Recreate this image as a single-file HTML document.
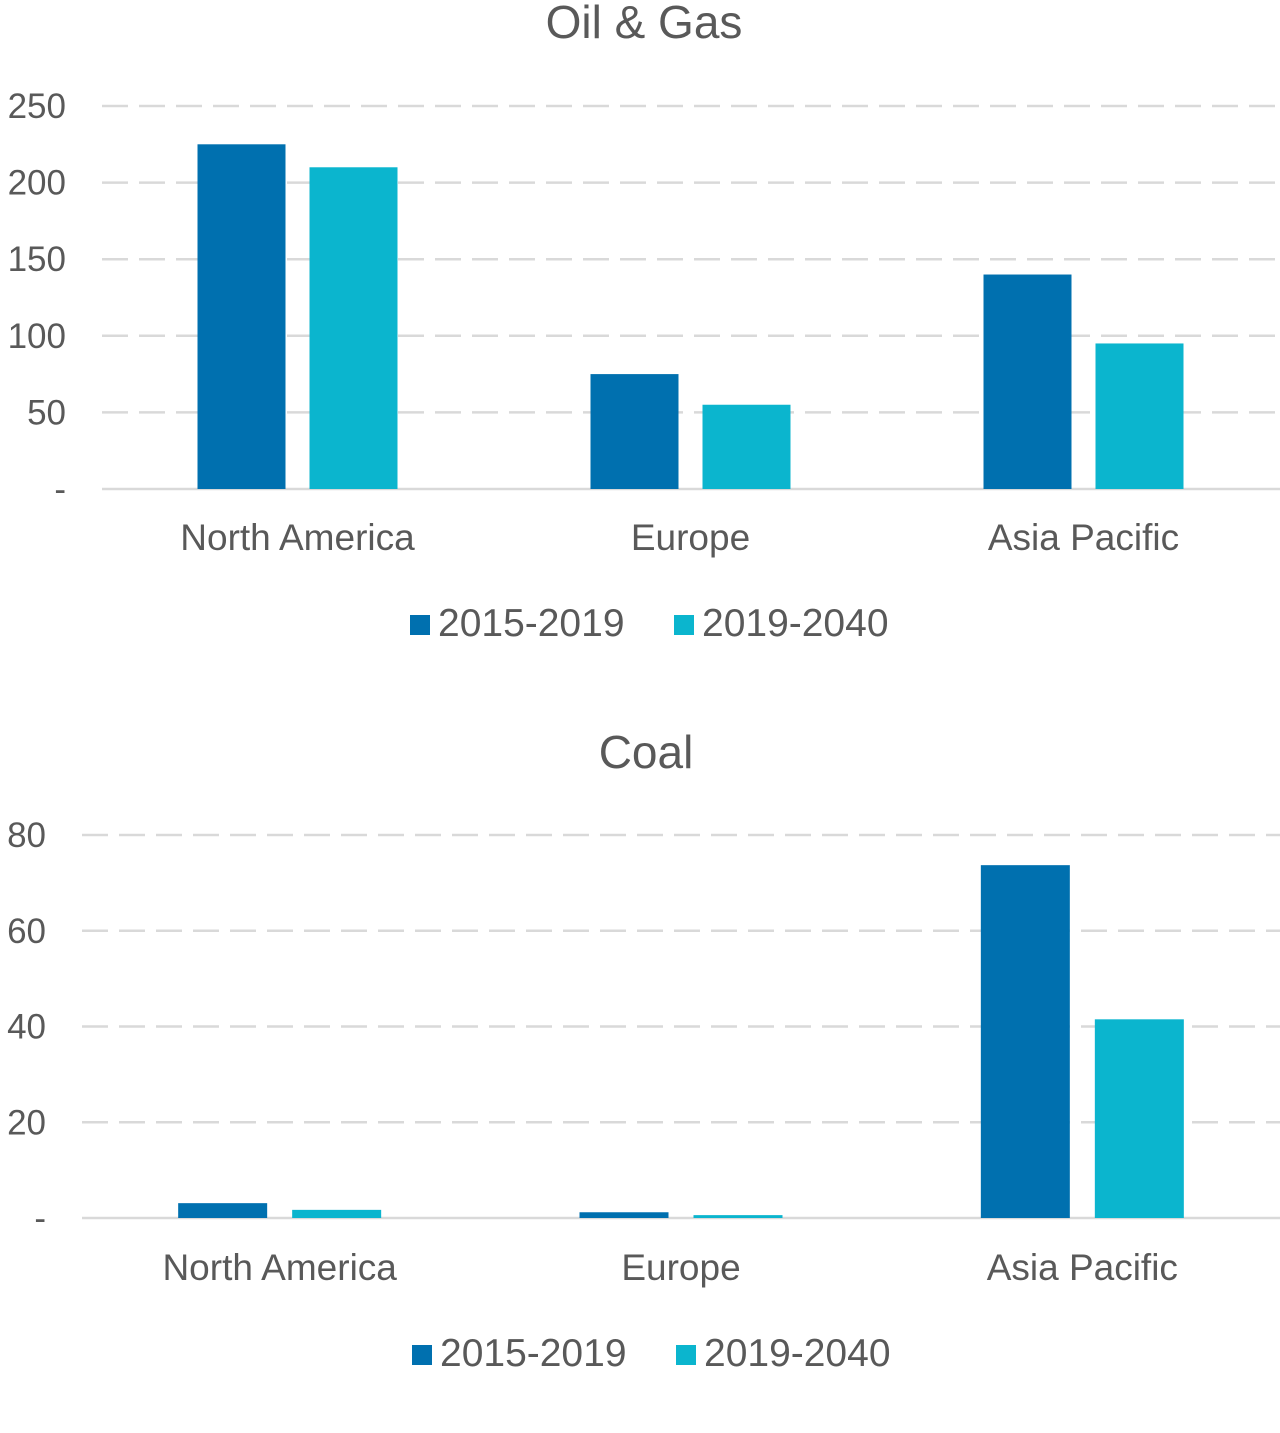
<!DOCTYPE html>
<html><head><meta charset="utf-8"><style>
html,body{margin:0;padding:0;background:#fff;}
svg{display:block;font-family:"Liberation Sans",Arial,sans-serif;}
</style></head><body>
<svg id="svg" width="1280" height="1433" viewBox="0 0 1280 1433"></svg>
<script>
const categories = ["North America","Europe","Asia Pacific"];
const seriesNames = ["2015-2019","2019-2040"];
const oilGas2015 = [225, 75, 140];
const oilGas2019 = [210, 55, 95];
const oilTicks = [0, 50, 100, 150, 200, 250];
const oilTickLabels = ["-", "50", "100", "150", "200", "250"];
const coal2015 = [3.1, 1.2, 73.7];
const coal2019 = [1.7, 0.6, 41.5];
const coalTicks = [0, 20, 40, 60, 80];
const coalTickLabels = ["-", "20", "40", "60", "80"];

const NS="http://www.w3.org/2000/svg";
const svg=document.getElementById('svg');
const colors=["#0070AF","#0BB5CE"];
function mk(tag,attrs,parent){const e=document.createElementNS(NS,tag);for(const k in attrs)e.setAttribute(k,attrs[k]);(parent||svg).appendChild(e);return e;}

function chart(cfg){
  const g=mk('g',{});
  
  
  const y=v=>cfg.y0-(v-cfg.vmin)*(cfg.y0-cfg.y1)/(cfg.vmax-cfg.vmin);
  const catW=(cfg.x1-cfg.x0)/categories.length;
  const t=mk('text',{x:cfg.titleX,y:cfg.titleY,'text-anchor':'middle','font-size':46,fill:'#595959'},g);
  t.textContent=cfg.title;
  
  
  cfg.ticks.forEach((v,i)=>{
    const yy=y(v);
    const ln=mk('line',{x1:cfg.gx0,x2:1280,y1:yy,y2:yy,stroke:'#d9d9d9','stroke-width':v===0?2.5:2.5,'stroke-dasharray':v===0?'none':'26 11'},g);
    
    
    const tl=mk('text',{x:cfg.labX,y:yy+12,'text-anchor':'end','font-size':35,fill:'#595959'},g);
    tl.textContent=cfg.tickLabels[i];
    
    
  });
  categories.forEach((c,i)=>{
    const cx=cfg.x0+catW*(i+0.5);
    [cfg.s1,cfg.s2].forEach((s,j)=>{
      const bx=cx-cfg.bw-cfg.gap/2+j*(cfg.bw+cfg.gap);
      const top=y(s[i]);
      const r=mk('rect',{x:bx,y:top,width:cfg.bw,height:cfg.y0-top,fill:colors[j]},g);
      
      
    });
    const cl=mk('text',{x:cx,y:cfg.catY,'text-anchor':'middle','font-size':37,fill:'#595959'},g);
    cl.textContent=c;
    
    
  });
  seriesNames.forEach((n,j)=>{
    const lx=cfg.legX[j];
    const sw=mk('rect',{x:lx,y:cfg.legY-21,width:20,height:20,fill:colors[j]},g);
    
    
    const lt=mk('text',{x:lx+28,y:cfg.legY,'font-size':39,fill:'#595959'},g);
    lt.textContent=n;
    
    
  });
}
chart({name:'oil-gas-chart',title:'Oil & Gas',titleX:644,titleY:38,vmin:0,vmax:250,y0:489,y1:106,
  ticks:oilTicks,tickLabels:oilTickLabels,gx0:102,labX:66,x0:101,x1:1280,bw:88,gap:24,
  s1:oilGas2015,s2:oilGas2019,catY:550,legX:[410,674],legY:636});
chart({name:'coal-chart',title:'Coal',titleX:646,titleY:768,vmin:0,vmax:80,y0:1218,y1:835,
  ticks:coalTicks,tickLabels:coalTickLabels,gx0:82,labX:46,x0:79,x1:1283,bw:89,gap:25,
  s1:coal2015,s2:coal2019,catY:1280,legX:[412,676],legY:1366});
</script>
</body></html>
